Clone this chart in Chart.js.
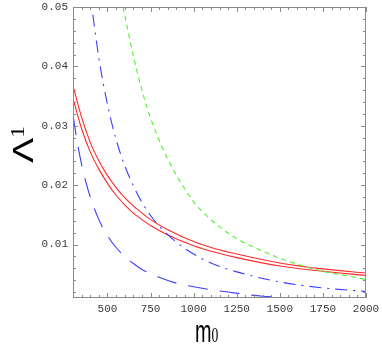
<!DOCTYPE html>
<html>
<head>
<meta charset="utf-8">
<script src="https://cdn.jsdelivr.net/npm/chart.js@4/dist/chart.umd.min.js"></script>
<style>
html,body{margin:0;padding:0;background:#fff;}
#wrap{width:382px;height:354px;}
</style>
</head>
<body>
<div id="wrap"><canvas id="c" width="382" height="354"></canvas></div>
<script>
// ---- data ----
const redUpperX = [300, 350, 400, 450, 500, 550, 600, 650, 700, 750, 850, 1000, 1125, 1250, 1500, 1750, 2000];
const redUpperY = [0.0367, 0.0314, 0.0272, 0.0241, 0.0216, 0.0196, 0.0179, 0.0165, 0.0153, 0.0142, 0.0125, 0.0105, 0.0093, 0.0084, 0.0069, 0.0059, 0.0052];
const redLowerX = [300, 350, 400, 450, 500, 550, 600, 650, 700, 750, 850, 1000, 1125, 1250, 1500, 1750, 2000];
const redLowerY = [0.0346, 0.0295, 0.0256, 0.0227, 0.0203, 0.0183, 0.0167, 0.0153, 0.0142, 0.0132, 0.0116, 0.0098, 0.0087, 0.0078, 0.0064, 0.0055, 0.0048];
const blueDashDotX = [415, 450, 500, 550, 600, 650, 700, 750, 800, 900, 1000, 1100, 1250, 1500, 1750, 2000];
const blueDashDotY = [0.0487, 0.0414, 0.0336, 0.0277, 0.0233, 0.0199, 0.0171, 0.0149, 0.0131, 0.0104, 0.0084, 0.0069, 0.0054, 0.0037, 0.0027, 0.0021];
const blueDashX = [300, 325, 350, 375, 400, 450, 500, 550, 600, 650, 700, 800, 900, 1000, 1100, 1200, 1300, 1400, 1500, 1650, 1750];
const blueDashY = [0.0318, 0.0272, 0.0235, 0.0205, 0.0180, 0.0142, 0.0115, 0.0095, 0.0080, 0.0068, 0.0058, 0.0045, 0.0035, 0.0029, 0.0024, 0.0020, 0.0016, 0.0013, 0.0011, 0.0009, 0.0008];
const greenX = [590, 650, 700, 750, 800, 850, 900, 1000, 1100, 1250, 1400, 1500, 1600, 1750, 1900, 2000];
const greenY = [0.0500, 0.0418, 0.0360, 0.0313, 0.0276, 0.0244, 0.0217, 0.0172, 0.0142, 0.0110, 0.0089, 0.0077, 0.0067, 0.0055, 0.0047, 0.0041];
const xTicks = [500, 750, 1000, 1250, 1500, 1750, 2000];
const yTicks = [0.01, 0.02, 0.03, 0.04, 0.05];
const xMinorStep = 50;
const yMinorStep = 0.002;
const xLabel = ["m", "0"];
const yLabel = ["Λ", "1"];

function pts(xs, ys){ return xs.map((x,i)=>({x:x, y:ys[i]})); }

const tickFont = '11px "Liberation Mono", "DejaVu Sans Mono", monospace';

const framePlugin = {
  id: 'frame',
  afterDraw(chart){
    const ctx = chart.ctx, a = chart.chartArea;
    const xs = chart.scales.x, ys = chart.scales.y;
    ctx.save();
    ctx.strokeStyle = '#8a8a8a';
    ctx.lineWidth = 1;
    ctx.strokeRect(Math.round(a.left)+0.5, Math.round(a.top)+0.5, Math.round(a.right-a.left)-1, Math.round(a.bottom-a.top)-1);
    ctx.beginPath();
    for (let v = xs.min; v <= xs.max + 1e-9; v += xMinorStep){
      const major = xTicks.some(t => Math.abs(t - v) < 1e-6);
      const len = major ? 5 : 3;
      const px = Math.round(xs.getPixelForValue(v)) + 0.5;
      ctx.moveTo(px, a.bottom); ctx.lineTo(px, a.bottom - len);
      ctx.moveTo(px, a.top); ctx.lineTo(px, a.top + len);
    }
    for (let k = 1; k * yMinorStep <= ys.max + 1e-9; k++){
      const v = k * yMinorStep;
      if (v < ys.min) continue;
      const major = yTicks.some(t => Math.abs(t - v) < 1e-9);
      const len = major ? 5 : 3;
      const py = Math.round(ys.getPixelForValue(v)) + 0.5;
      ctx.moveTo(a.left, py); ctx.lineTo(a.left + len, py);
      ctx.moveTo(a.right, py); ctx.lineTo(a.right - len, py);
    }
    ctx.stroke();

    ctx.fillStyle = '#3a3a3a';
    ctx.font = tickFont;
    ctx.textAlign = 'center';
    ctx.textBaseline = 'top';
    xTicks.forEach(t => ctx.fillText(String(t), xs.getPixelForValue(t), a.bottom + 6));
    ctx.textAlign = 'right';
    ctx.textBaseline = 'middle';
    yTicks.forEach(t => ctx.fillText(t.toFixed(2), a.left - 5, ys.getPixelForValue(t)));

    ctx.fillStyle = '#000';
    ctx.textAlign = 'left';
    ctx.textBaseline = 'alphabetic';
    // x title: m0
    ctx.save();
    ctx.translate(195, 342);
    ctx.scale(0.62, 1);
    ctx.font = '32px "Liberation Sans", Arial, sans-serif';
    ctx.fillText(xLabel[0], 0, 0);
    const mw = ctx.measureText(xLabel[0]).width;
    ctx.font = '22px "Liberation Serif", "Times New Roman", serif';
    ctx.fillText(xLabel[1], mw, 0);
    ctx.restore();
    // y title: Λ1 (rotated)
    ctx.save();
    ctx.translate(33, 163);
    ctx.rotate(-Math.PI/2);
    ctx.scale(1.3, 1);
    ctx.font = '29px "Liberation Sans", Arial, sans-serif';
    ctx.fillText(yLabel[0], 0, 0);
    const lw = ctx.measureText(yLabel[0]).width;
    ctx.font = '18px "Liberation Serif", "Times New Roman", serif';
    ctx.fillText(yLabel[1], lw, -9);
    ctx.restore();
    ctx.restore();
  }
};

const common = {showLine:true, pointRadius:0, borderWidth:1.1, fill:false, cubicInterpolationMode:'monotone'};

new Chart(document.getElementById('c'), {
  type: 'scatter',
  data: {
    datasets: [
      Object.assign({label:'blue dash', data: pts(blueDashX, blueDashY), borderColor:'#3c3cff', borderDash:[20,12]}, common),
      Object.assign({label:'blue dash-dot', data: pts(blueDashDotX, blueDashDotY), borderColor:'#3c3cff', borderDash:[12,6,2,6]}, common),
      Object.assign({label:'green', data: pts(greenX, greenY), borderColor:'#4cf52a', borderDash:[5,4]}, common),
      Object.assign({label:'red lower', data: pts(redLowerX, redLowerY), borderColor:'#ff2a2a'}, common),
      Object.assign({label:'red upper', data: pts(redUpperX, redUpperY), borderColor:'#ff2a2a'}, common)
    ]
  },
  options: {
    responsive: false,
    animation: false,
    devicePixelRatio: 1,
    layout: {padding: {left: 73, right: 16, top: 7, bottom: 56}},
    plugins: {legend:{display:false}, tooltip:{enabled:false}},
    scales: {
      x: {type:'linear', min:300, max:2000, display:false},
      y: {type:'linear', min:0.001, max:0.05, display:false}
    }
  },
  plugins: [framePlugin]
});
</script>
</body>
</html>
